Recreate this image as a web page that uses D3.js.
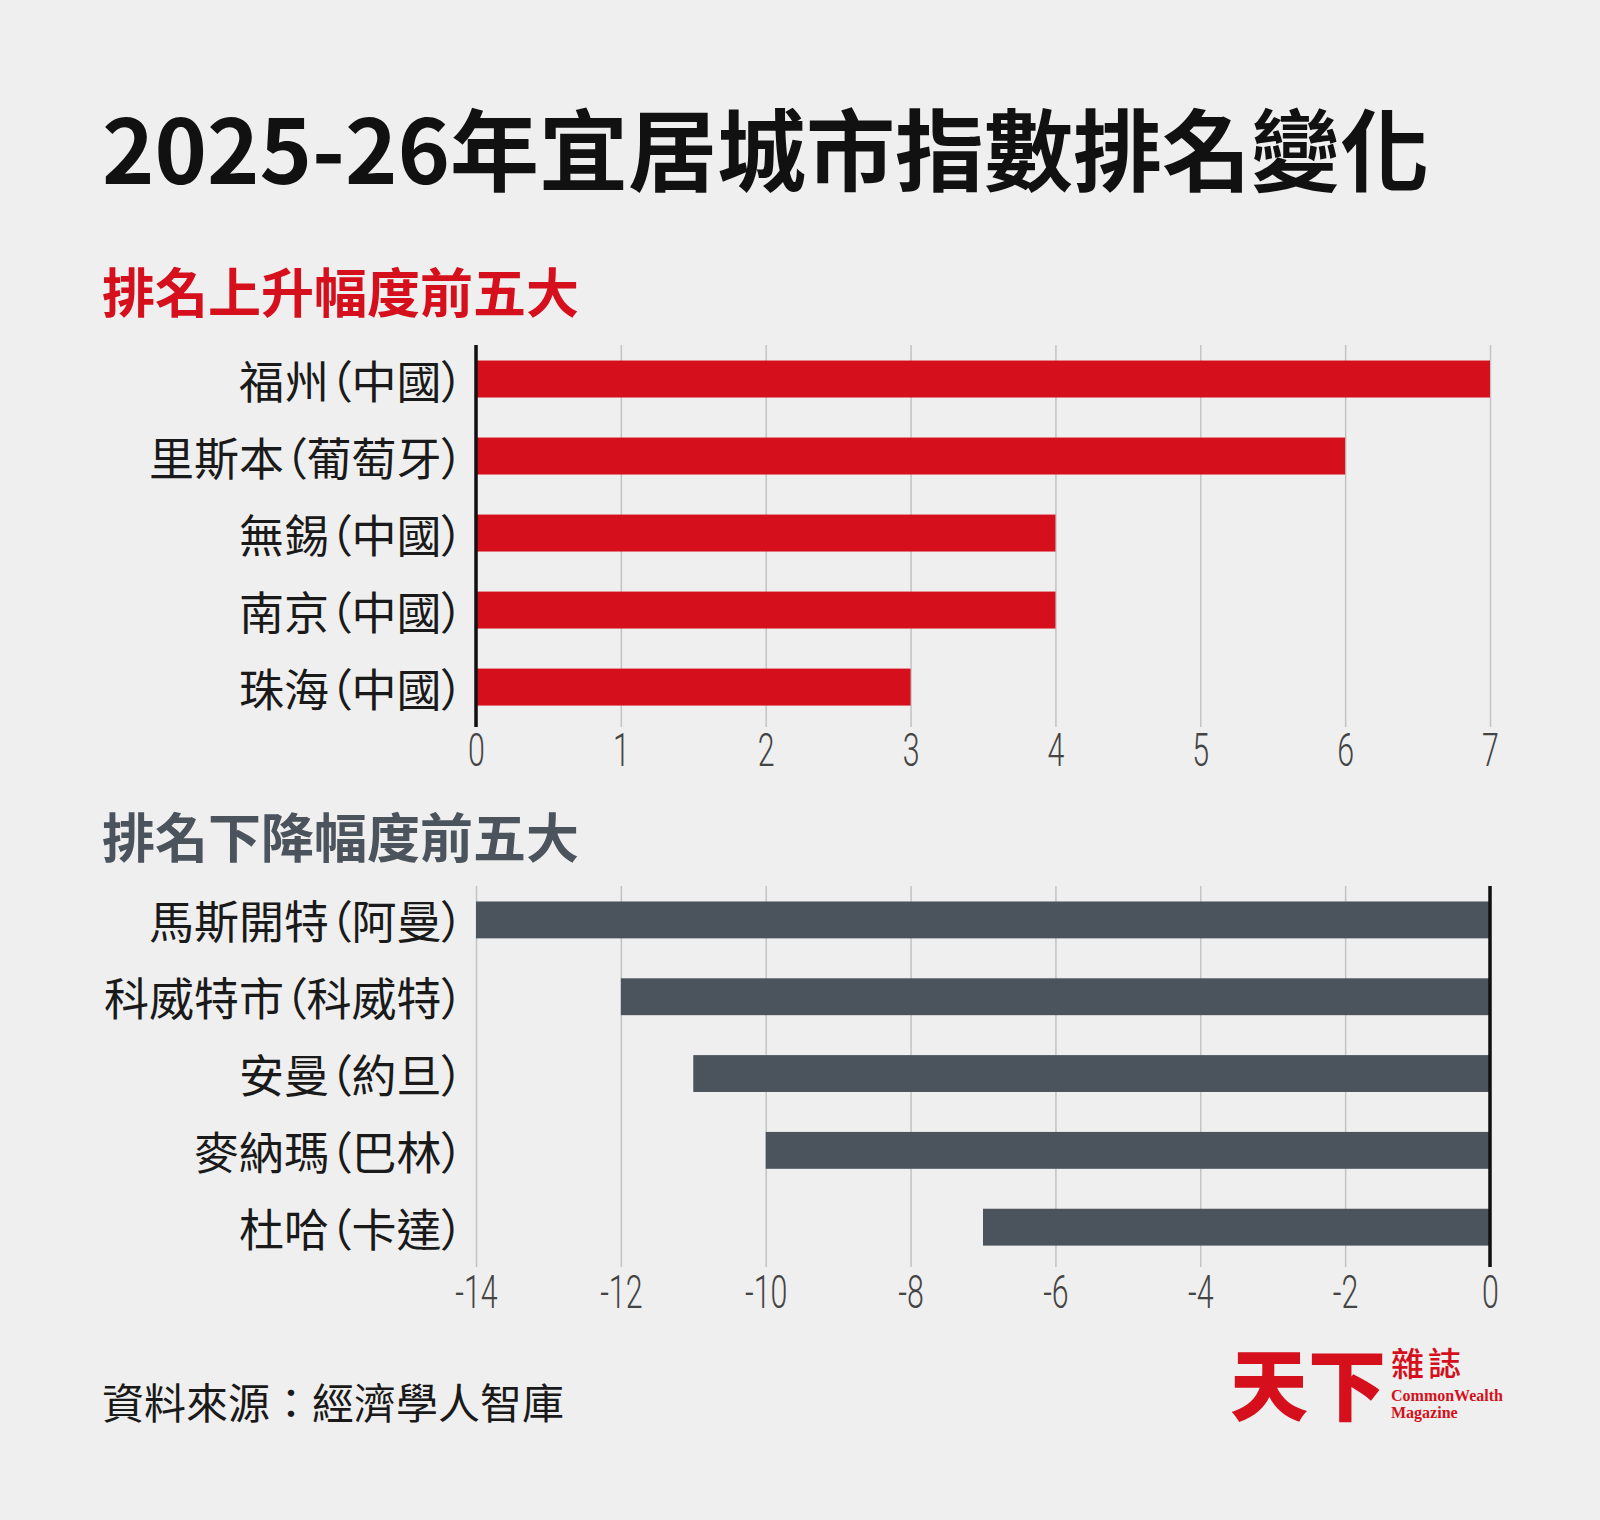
<!DOCTYPE html>
<html>
<head>
<meta charset="utf-8">
<script src="https://cdn.jsdelivr.net/npm/d3@7"></script>
<style>
  body { margin: 0; background: #efefef; }
  svg { display: block; }
</style>
</head>
<body>
<div id="chart"></div>
<script>
// Data
var riseCities = ["福州（中國）", "里斯本（葡萄牙）", "無錫（中國）", "南京（中國）", "珠海（中國）"];
var riseValues = [7, 6, 4, 4, 3];
var riseTicks = [0, 1, 2, 3, 4, 5, 6, 7];

var fallCities = ["馬斯開特（阿曼）", "科威特市（科威特）", "安曼（約旦）", "麥納瑪（巴林）", "杜哈（卡達）"];
var fallValues = [-14, -12, -11, -10, -7];
var fallTicks = [-14, -12, -10, -8, -6, -4, -2, 0];

var width = 1600;
var height = 1520;

var plotLeft = 476;
var plotRight = 1490;

var cjk = "'Noto Sans CJK TC', 'Noto Sans CJK SC', sans-serif";
var red = "#d50f1b";
var slate = "#4b535c";

var svg = d3.select("#chart").append("svg")
  .attr("width", width)
  .attr("height", height)
  .style("background", "#efefef");

// Title
svg.append("text")
  .attr("x", 102)
  .attr("y", 145)
  .attr("dominant-baseline", "central")
  .style("font-family", cjk)
  .style("font-weight", 700)
  .style("font-size", "89px")
  .style("fill", "#111")
  .text("2025-26年宜居城市指數排名變化");

// Draws one horizontal bar panel
function drawPanel(opts) {
  var x = d3.scaleLinear()
    .domain(opts.domain)
    .range([plotLeft, plotRight]);

  var y = d3.scaleBand()
    .domain(opts.cities)
    .range([opts.top, opts.bottom])
    .paddingInner(0.52)
    .paddingOuter(0.24)
    .align(0.42);

  // subtitle
  svg.append("text")
    .attr("x", 102)
    .attr("y", opts.subtitleY)
    .attr("dominant-baseline", "central")
    .style("font-family", cjk)
    .style("font-weight", 700)
    .style("font-size", "53px")
    .style("fill", opts.subtitleColor)
    .text(opts.subtitle);

  // grid + tick labels
  var axis = d3.axisBottom(x)
    .tickValues(opts.ticks)
    .tickSize(-(opts.bottom - opts.top))
    .tickPadding(opts.tickPad)
    .tickFormat(d3.format("d"));

  var g = svg.append("g")
    .attr("transform", "translate(0," + opts.bottom + ")")
    .call(axis);

  g.select(".domain").remove();
  g.selectAll(".tick line")
    .attr("stroke", "#c3c3c3")
    .attr("stroke-width", 1.5);
  g.selectAll(".tick text")
    .attr("transform", "scale(0.66,1)")
    .style("font-family", "Roboto, sans-serif")
    .style("font-weight", 300)
    .style("font-size", "46px")
    .style("fill", "#444")
    .text(d => d < 0 ? "-" + Math.abs(d) : d);

  // bars
  svg.append("g")
    .selectAll("rect")
    .data(opts.values)
    .join("rect")
    .attr("x", d => x(Math.min(0, d)))
    .attr("y", (d, i) => y(opts.cities[i]))
    .attr("width", d => Math.abs(x(d) - x(0)))
    .attr("height", y.bandwidth())
    .attr("fill", opts.barColor);

  // zero line
  svg.append("line")
    .attr("x1", x(0))
    .attr("x2", x(0))
    .attr("y1", opts.top)
    .attr("y2", opts.bottom)
    .attr("stroke", "#111")
    .attr("stroke-width", 3.5);

  // category labels
  svg.append("g")
    .selectAll("text")
    .data(opts.cities)
    .join("text")
    .attr("x", plotLeft - 12)
    .attr("y", d => y(d) + y.bandwidth() / 2)
    .attr("text-anchor", "end")
    .attr("dominant-baseline", "central")
    .style("font-family", cjk)
    .style("font-feature-settings", "'palt'")
    .style("font-weight", 400)
    .style("font-size", "45px")
    .style("fill", "#1a1a1a")
    .text(d => d);
}

drawPanel({
  cities: riseCities,
  values: riseValues,
  ticks: riseTicks,
  domain: [0, 7],
  top: 345,
  bottom: 727,
  tickPad: 6,
  subtitle: "排名上升幅度前五大",
  subtitleY: 290,
  subtitleColor: red,
  barColor: red
});

drawPanel({
  cities: fallCities,
  values: fallValues,
  ticks: fallTicks,
  domain: [-14, 0],
  top: 886,
  bottom: 1267,
  tickPad: 8,
  subtitle: "排名下降幅度前五大",
  subtitleY: 835,
  subtitleColor: slate,
  barColor: slate
});

// Source
svg.append("text")
  .attr("x", 102)
  .attr("y", 1400)
  .attr("dominant-baseline", "central")
  .style("font-family", cjk)
  .style("font-size", "42px")
  .style("fill", "#1a1a1a")
  .text("資料來源：經濟學人智庫");

// Logo
var logo = svg.append("g").style("fill", red);
logo.append("text")
  .attr("x", 1230)
  .attr("y", 1381)
  .attr("dominant-baseline", "central")
  .style("font-family", cjk)
  .style("font-weight", 900)
  .style("font-size", "78px")
  .text("天下");
logo.append("text")
  .attr("x", 1391)
  .attr("y", 1362)
  .attr("dominant-baseline", "central")
  .style("font-family", cjk)
  .style("font-weight", 500)
  .style("font-size", "33px")
  .style("letter-spacing", "4px")
  .text("雜誌");
logo.append("text")
  .attr("x", 1391)
  .attr("y", 1401)
  .style("font-family", "'Liberation Serif', serif")
  .style("font-weight", 700)
  .style("font-size", "16px")
  .text("CommonWealth");
logo.append("text")
  .attr("x", 1391)
  .attr("y", 1418)
  .style("font-family", "'Liberation Serif', serif")
  .style("font-weight", 700)
  .style("font-size", "16px")
  .text("Magazine");
</script>
</body>
</html>
